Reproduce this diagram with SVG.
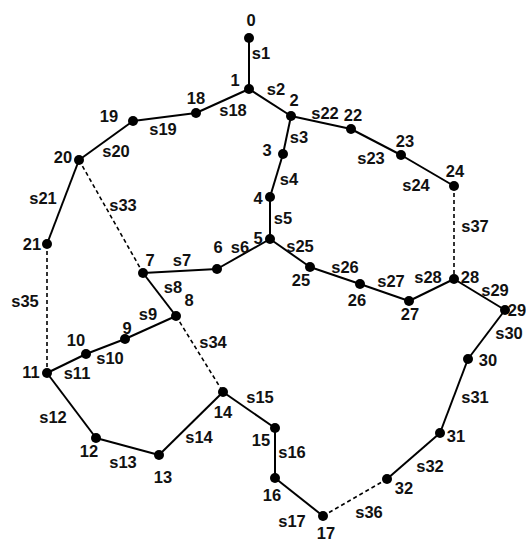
<svg xmlns="http://www.w3.org/2000/svg" width="526" height="541" viewBox="0 0 526 541">
<style>
.e{stroke:#000;stroke-width:2;fill:none}
.d{stroke:#000;stroke-width:1.6;fill:none;stroke-dasharray:4 3}
.n{fill:#000}
text{font-family:"Liberation Sans",Arial,sans-serif;font-weight:bold;font-size:16.5px;fill:#111;text-anchor:middle}
</style>
<rect width="526" height="541" fill="#fff"/>
<g id="connectors">
<line class="e" x1="249" y1="38" x2="249" y2="89"/><text x="261" y="59">s1</text>
<line class="e" x1="249" y1="89" x2="291" y2="116"/><text x="276" y="95">s2</text>
<line class="e" x1="291" y1="116" x2="283" y2="154"/><text x="299" y="143">s3</text>
<line class="e" x1="283" y1="154" x2="270" y2="197"/><text x="289" y="185">s4</text>
<line class="e" x1="270" y1="197" x2="270" y2="239"/><text x="283" y="224">s5</text>
<line class="e" x1="270" y1="239" x2="217" y2="269"/><text x="240" y="253">s6</text>
<line class="e" x1="217" y1="269" x2="143" y2="273"/><text x="182" y="266">s7</text>
<line class="e" x1="143" y1="273" x2="176" y2="316"/><text x="173" y="293">s8</text>
<line class="e" x1="176" y1="316" x2="125" y2="339"/><text x="148" y="320">s9</text>
<line class="e" x1="125" y1="339" x2="86" y2="354"/><text x="110" y="364">s10</text>
<line class="e" x1="86" y1="354" x2="47" y2="373"/><text x="77" y="379">s11</text>
<line class="e" x1="47" y1="373" x2="96" y2="438"/><text x="53" y="423">s12</text>
<line class="e" x1="96" y1="438" x2="159" y2="455"/><text x="123" y="468">s13</text>
<line class="e" x1="159" y1="455" x2="223" y2="392"/><text x="199" y="443">s14</text>
<line class="e" x1="223" y1="392" x2="275" y2="428"/><text x="260" y="403">s15</text>
<line class="e" x1="275" y1="428" x2="275" y2="478"/><text x="292" y="458">s16</text>
<line class="e" x1="275" y1="478" x2="323" y2="516"/><text x="292" y="527">s17</text>
<line class="e" x1="249" y1="89" x2="196" y2="113"/><text x="233" y="116">s18</text>
<line class="e" x1="196" y1="113" x2="133" y2="121"/><text x="163" y="135">s19</text>
<line class="e" x1="133" y1="121" x2="79" y2="160"/><text x="116" y="157">s20</text>
<line class="e" x1="79" y1="160" x2="47" y2="244"/><text x="43" y="204">s21</text>
<line class="e" x1="291" y1="116" x2="351" y2="129"/><text x="325" y="119">s22</text>
<line class="e" x1="351" y1="129" x2="401" y2="155"/><text x="371" y="164">s23</text>
<line class="e" x1="401" y1="155" x2="454" y2="186"/><text x="416" y="191">s24</text>
<line class="e" x1="270" y1="239" x2="310" y2="267"/><text x="300" y="252">s25</text>
<line class="e" x1="310" y1="267" x2="360" y2="284"/><text x="345" y="273">s26</text>
<line class="e" x1="360" y1="284" x2="409" y2="301"/><text x="391" y="287">s27</text>
<line class="e" x1="409" y1="301" x2="454" y2="279"/><text x="428" y="283">s28</text>
<line class="e" x1="454" y1="279" x2="505" y2="310"/><text x="495" y="296">s29</text>
<line class="e" x1="505" y1="310" x2="468" y2="359"/><text x="509" y="339">s30</text>
<line class="e" x1="468" y1="359" x2="440" y2="433"/><text x="475" y="403">s31</text>
<line class="e" x1="440" y1="433" x2="387" y2="479"/><text x="430" y="472">s32</text>
<line class="d" x1="79" y1="160" x2="143" y2="273"/><text x="123" y="211">s33</text>
<line class="d" x1="176" y1="316" x2="223" y2="392"/><text x="213" y="348">s34</text>
<line class="d" x1="47" y1="244" x2="47" y2="373"/><text x="25" y="307">s35</text>
<line class="d" x1="323" y1="516" x2="387" y2="479"/><text x="369" y="518">s36</text>
<line class="d" x1="454" y1="186" x2="454" y2="279"/><text x="475" y="232">s37</text>
</g>
<g id="n0"><circle class="n" cx="249" cy="38" r="5"/><text x="251" y="26">0</text></g>
<g id="n1"><circle class="n" cx="249" cy="89" r="5"/><text x="235" y="86">1</text></g>
<g id="n2"><circle class="n" cx="291" cy="116" r="5"/><text x="294" y="106">2</text></g>
<g id="n3"><circle class="n" cx="283" cy="154" r="5"/><text x="267" y="156">3</text></g>
<g id="n4"><circle class="n" cx="270" cy="197" r="5"/><text x="258" y="204">4</text></g>
<g id="n5"><circle class="n" cx="270" cy="239" r="5"/><text x="258" y="244">5</text></g>
<g id="n6"><circle class="n" cx="217" cy="269" r="5"/><text x="218" y="253">6</text></g>
<g id="n7"><circle class="n" cx="143" cy="273" r="5"/><text x="150" y="266">7</text></g>
<g id="n8"><circle class="n" cx="176" cy="316" r="5"/><text x="189" y="306">8</text></g>
<g id="n9"><circle class="n" cx="125" cy="339" r="5"/><text x="127" y="334">9</text></g>
<g id="n10"><circle class="n" cx="86" cy="354" r="5"/><text x="76" y="346">10</text></g>
<g id="n11"><circle class="n" cx="47" cy="373" r="5"/><text x="31" y="378">11</text></g>
<g id="n12"><circle class="n" cx="96" cy="438" r="5"/><text x="89" y="457">12</text></g>
<g id="n13"><circle class="n" cx="159" cy="455" r="5"/><text x="163" y="483">13</text></g>
<g id="n14"><circle class="n" cx="223" cy="392" r="5"/><text x="223" y="418">14</text></g>
<g id="n15"><circle class="n" cx="275" cy="428" r="5"/><text x="261" y="446">15</text></g>
<g id="n16"><circle class="n" cx="275" cy="478" r="5"/><text x="272" y="501">16</text></g>
<g id="n17"><circle class="n" cx="323" cy="516" r="5"/><text x="326" y="539">17</text></g>
<g id="n18"><circle class="n" cx="196" cy="113" r="5"/><text x="196" y="104">18</text></g>
<g id="n19"><circle class="n" cx="133" cy="121" r="5"/><text x="109" y="122">19</text></g>
<g id="n20"><circle class="n" cx="79" cy="160" r="5"/><text x="63" y="163">20</text></g>
<g id="n21"><circle class="n" cx="47" cy="244" r="5"/><text x="32" y="250">21</text></g>
<g id="n22"><circle class="n" cx="351" cy="129" r="5"/><text x="353" y="121">22</text></g>
<g id="n23"><circle class="n" cx="401" cy="155" r="5"/><text x="405" y="147">23</text></g>
<g id="n24"><circle class="n" cx="454" cy="186" r="5"/><text x="455" y="177">24</text></g>
<g id="n25"><circle class="n" cx="310" cy="267" r="5"/><text x="301" y="286">25</text></g>
<g id="n26"><circle class="n" cx="360" cy="284" r="5"/><text x="357" y="306">26</text></g>
<g id="n27"><circle class="n" cx="409" cy="301" r="5"/><text x="410" y="320">27</text></g>
<g id="n28"><circle class="n" cx="454" cy="279" r="5"/><text x="470" y="283">28</text></g>
<g id="n29"><circle class="n" cx="505" cy="310" r="5"/><text x="517" y="316">29</text></g>
<g id="n30"><circle class="n" cx="468" cy="359" r="5"/><text x="488" y="366">30</text></g>
<g id="n31"><circle class="n" cx="440" cy="433" r="5"/><text x="456" y="442">31</text></g>
<g id="n32"><circle class="n" cx="387" cy="479" r="5"/><text x="404" y="494">32</text></g>
</svg>
